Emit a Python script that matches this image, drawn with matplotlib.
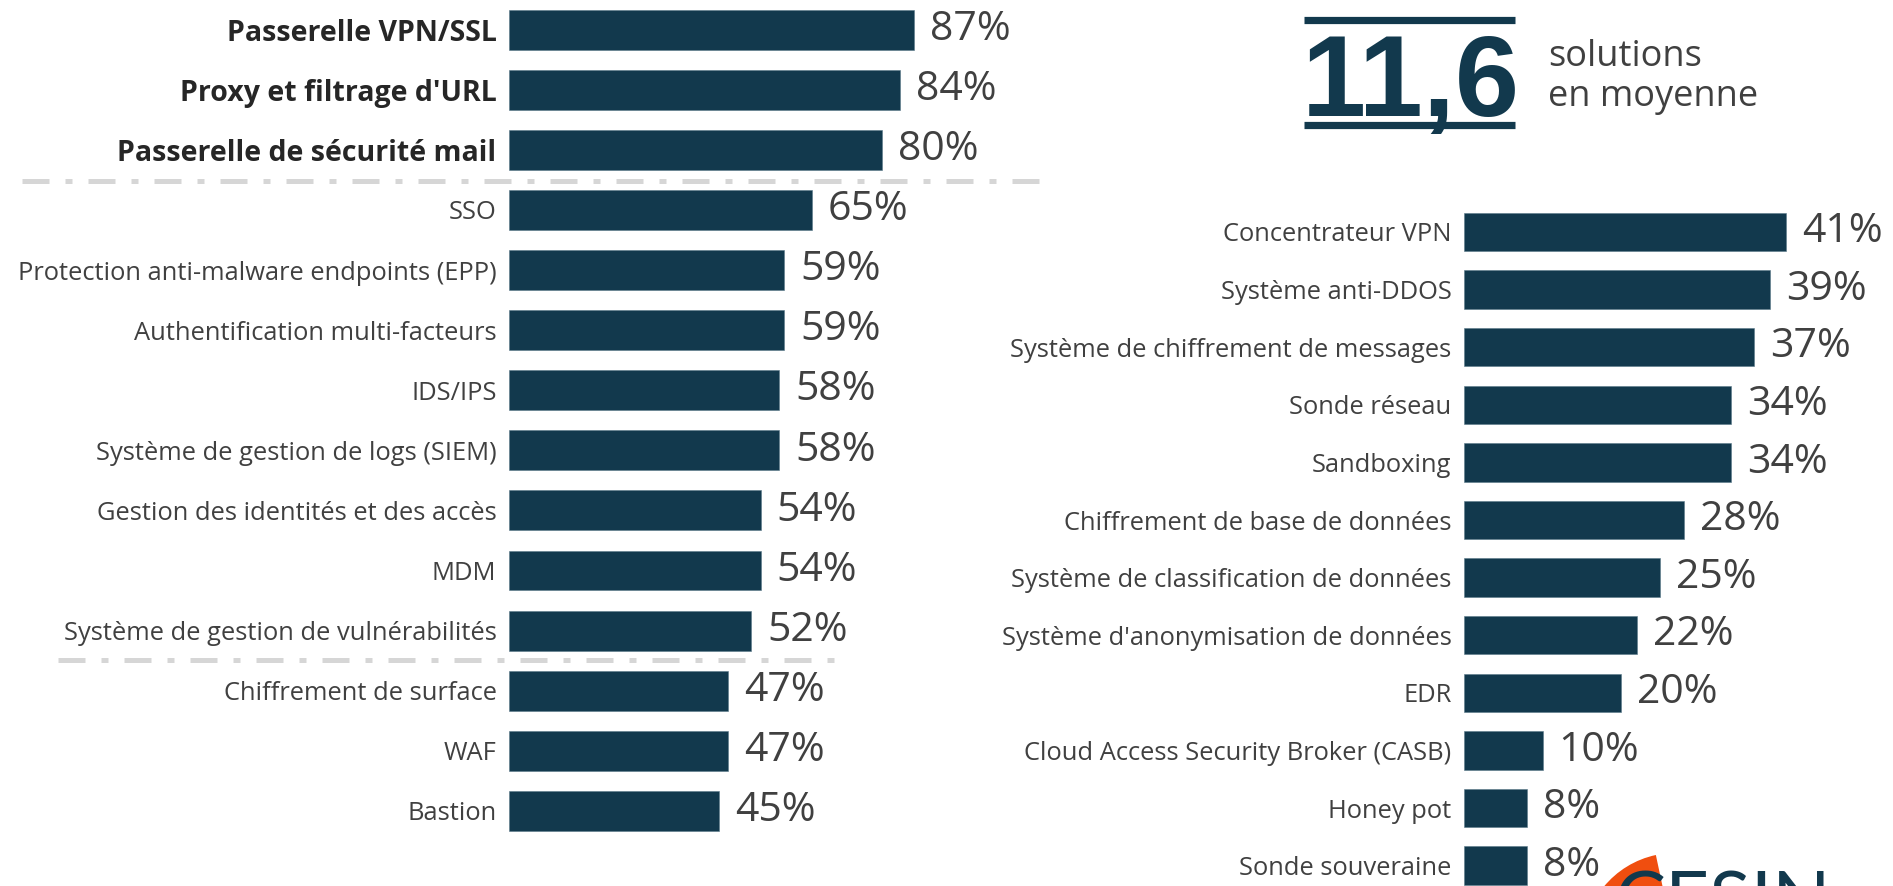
import matplotlib
matplotlib.use("Agg")
import matplotlib.pyplot as plt
from matplotlib.lines import Line2D
from matplotlib.patches import Wedge

# taux d'équipement par solution de sécurité
left_labels = [
    "Passerelle VPN/SSL", "Proxy et filtrage d'URL", "Passerelle de sécurité mail",
    "SSO", "Protection anti-malware endpoints (EPP)", "Authentification multi-facteurs",
    "IDS/IPS", "Système de gestion de logs (SIEM)", "Gestion des identités et des accès",
    "MDM", "Système de gestion de vulnérabilités", "Chiffrement de surface",
    "WAF", "Bastion",
]
left_values = [87, 84, 80, 65, 59, 59, 58, 58, 54, 54, 52, 47, 47, 45]
n_bold = 3

right_labels = [
    "Concentrateur VPN", "Système anti-DDOS", "Système de chiffrement de messages",
    "Sonde réseau", "Sandboxing", "Chiffrement de base de données",
    "Système de classification de données", "Système d'anonymisation de données",
    "EDR", "Cloud Access Security Broker (CASB)", "Honey pot", "Sonde souveraine",
]
right_values = [41, 39, 37, 34, 34, 28, 25, 22, 20, 10, 8, 8]

moyenne = "11,6"

W, H = 1893, 886
BAR = "#12394d"
TXT = "#404040"
GRID = "#d6d6d6"
FONT = "Open Sans"

plt.rcParams["font.family"] = [FONT, "DejaVu Sans"]

fig = plt.figure(figsize=(W / 100, H / 100), dpi=100)


def px(x, y):
    return x / W, 1 - y / H


def bar_panel(x0, ppp, xmax, y_first, step, height, labels, values, bold=0):
    ax = fig.add_axes([x0 / W, 0, ppp * xmax / W, 1])
    ax.set_facecolor("none")
    pos = list(range(len(values)))
    ax.barh(pos, values, height=height, color=BAR, edgecolor="#5a7a8a", linewidth=0.4)
    ax.set_xlim(0, xmax)
    ax.set_ylim((H - y_first) / step, -y_first / step)
    ax.set_yticks(pos)
    ax.set_yticklabels(labels, fontsize=18.4, color=TXT)
    for i, t in enumerate(ax.get_yticklabels()):
        if i < bold:
            t.set_fontweight("bold")
            t.set_fontsize(20.5)
            t.set_color("#262626")
    ax.tick_params(axis="y", length=0, pad=9)
    ax.set_xticks([])
    for s in ax.spines.values():
        s.set_visible(False)
    for p, v in zip(pos, values):
        ax.text(v + 16 / ppp, p, f"{v}%", va="center", ha="left",
                fontsize=29.5, color=TXT)
    return ax


bar_panel(509, 4.66, 100, 29.6, 60.1, 0.665, left_labels, left_values, n_bold)
bar_panel(1464, 7.85, 50, 232, 57.6, 0.67, right_labels, right_values)

# séparateurs en tirets
for xa, xb, y in [(22, 1041, 181), (58, 845, 660)]:
    (x1, y1), (x2, _) = px(xa, y), px(xb, y)
    fig.add_artist(Line2D([x1, x2], [y1, y1], color=GRID, lw=3.6,
                          linestyle=(0, (5.4, 3.2, 1.4, 3.2)),
                          solid_capstyle="butt", dash_capstyle="butt"))

# encart moyenne
for y in (20, 125):
    (x1, yy), (x2, _) = px(1304, y), px(1515, y)
    fig.add_artist(Line2D([x1, x2], [yy, yy], color=BAR, lw=5.2,
                          solid_capstyle="butt"))
fig.text(*px(1411, 116), moyenne, ha="center", va="baseline",
         fontsize=83, fontweight="bold", color=BAR, family="Liberation Sans")
fig.text(*px(1548, 66), "solutions", ha="left", va="baseline",
         fontsize=26, color=TXT)
fig.text(*px(1548, 106), "en moyenne", ha="left", va="baseline",
         fontsize=26, color=TXT)

# logo CESIN (coupé en bas), repère en pixels
logo = fig.add_axes([0, 0, 1, 1], zorder=5)
logo.set_xlim(0, W)
logo.set_ylim(H, 0)
logo.axis("off")
logo.add_patch(Wedge((1675, 945), 92, 180, 258, color="#f04e0f", lw=0))
logo.text(1614, 925, "CESIN", ha="left", va="baseline", fontsize=55,
          color=BAR, family="Lato")

fig.savefig("out.png", dpi=100)
